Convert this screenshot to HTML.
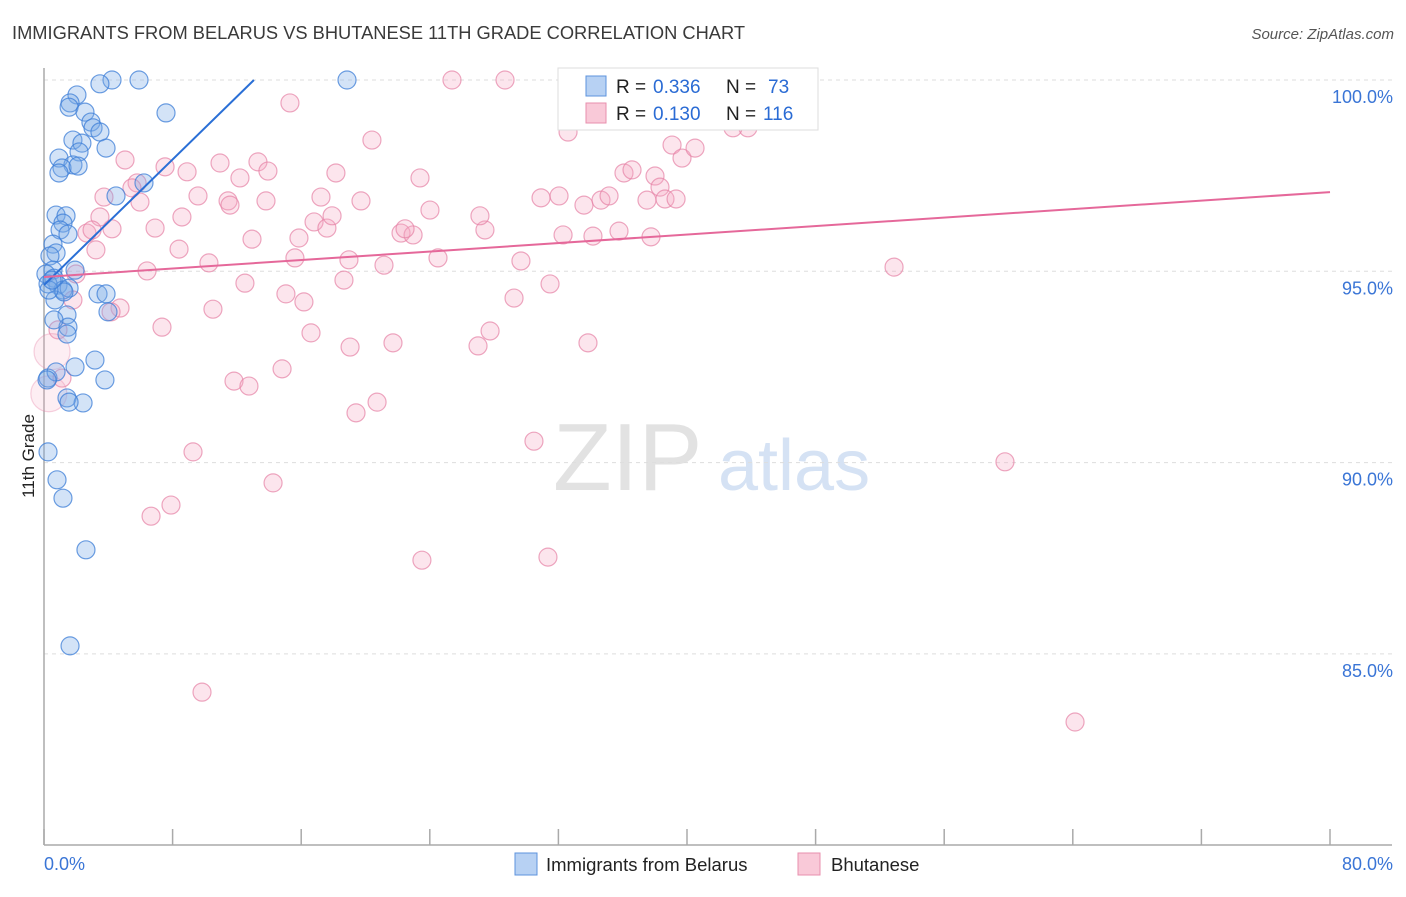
<!DOCTYPE html>
<html><head><meta charset="utf-8"><style>
body{margin:0;background:#fff;font-family:"Liberation Sans",sans-serif;}
svg text{font-family:"Liberation Sans",sans-serif;}
</style></head><body>
<svg id="chart" width="1406" height="892" viewBox="0 0 1406 892" xmlns="http://www.w3.org/2000/svg">
<text x="12" y="39" font-size="18.3" fill="#3a3a3a">IMMIGRANTS FROM BELARUS VS BHUTANESE 11TH GRADE CORRELATION CHART</text>
<text x="1394" y="39" font-size="15" fill="#555" font-style="italic" text-anchor="end">Source: ZipAtlas.com</text>
<g>
<text x="553" y="490" font-size="96" fill="#e2e2e2" font-family="Liberation Serif,serif">ZIP</text>
<text x="718" y="490" font-size="72" fill="#d5e2f4">atlas</text>
</g>
<g id="grid"></g>
<g id="axes"></g>
<g id="marks"></g>
<g id="trends"></g>
<text transform="translate(34,456) rotate(-90)" font-size="17" fill="#222" text-anchor="middle">11th Grade</text>
<g>
<rect x="558" y="68" width="260" height="62" fill="#fff" stroke="#ddd"/>
<rect x="586" y="76" width="20" height="20" fill="#b7d1f3" stroke="#5d93dc"/>
<text x="616" y="93" font-size="19" fill="#222">R = </text><text x="653" y="93" font-size="19" fill="#2a6bd4">0.336</text>
<text x="726" y="93" font-size="19" fill="#222">N = </text><text x="768" y="93" font-size="19" fill="#2a6bd4">73</text>
<rect x="586" y="103" width="20" height="20" fill="#f9c9d8" stroke="#e88fae"/>
<text x="616" y="120" font-size="19" fill="#222">R = </text><text x="653" y="120" font-size="19" fill="#2a6bd4">0.130</text>
<text x="726" y="120" font-size="19" fill="#222">N = </text><text x="763" y="120" font-size="19" fill="#2a6bd4">116</text>
</g>
<g>
<rect x="515" y="853" width="22" height="22" fill="#b7d1f3" stroke="#5d93dc"/>
<text x="546" y="871" font-size="18.5" fill="#222">Immigrants from Belarus</text>
<rect x="798" y="853" width="22" height="22" fill="#f9c9d8" stroke="#e88fae"/>
<text x="831" y="871" font-size="18.5" fill="#222">Bhutanese</text>
</g>
</svg>
<script>
const yTicks=[100,95,90,85];
const yTickLabels=["100.0%","95.0%","90.0%","85.0%"];
const xTickCount=10;
const xLabels=["0.0%","80.0%"];
const blueX=[4.23,5.91,18.85,3.48,2.05,1.62,1.56,2.55,7.59,2.92,3.05,1.80,3.48,2.36,3.86,0.93,2.18,1.80,1.12,2.12,0.93,6.22,4.48,0.75,1.37,1.18,1.00,1.49,0.56,0.75,0.37,1.93,0.56,0.12,0.62,0.87,1.18,1.56,3.36,3.86,0.68,1.24,0.25,3.98,1.43,1.49,1.43,0.62,3.17,1.93,3.79,0.25,0.75,1.43,2.43,1.56,0.25,0.81,1.18,2.61,1.62,0.31,0.19,0.50];
const blueY=[100,100,100,99.90,99.61,99.40,99.29,99.16,99.14,98.90,98.75,98.43,98.64,98.35,98.22,97.96,98.12,97.78,97.70,97.75,97.57,97.31,96.97,96.47,96.45,96.26,96.08,95.97,95.71,95.48,95.40,95.03,95.03,94.93,94.82,94.64,94.51,94.56,94.41,94.41,94.25,94.46,94.67,93.94,93.86,93.54,93.36,93.73,92.68,92.50,92.16,92.21,92.37,91.69,91.56,91.58,90.28,89.55,89.07,87.72,85.21,94.51,92.16,94.77];
const pinkX=[25.38,28.68,44.73,15.30,20.40,32.60,43.48,43.79,42.86,5.04,7.53,10.95,13.31,13.93,8.90,12.19,18.16,23.39,5.79,5.47,3.73,9.58,5.97,13.81,17.23,11.45,11.57,19.72,4.23,6.91,8.58,3.48,2.67,2.99,16.80,17.60,17.92,24.01,12.94,15.86,22.21,22.96,22.46,27.43,27.12,30.92,32.04,33.59,34.65,35.15,36.08,36.58,38.01,38.32,39.07,39.69,40.50,38.63,39.32,37.51,32.29,34.15,35.77,37.76,3.23,8.40,6.41,10.26,15.61,18.97,21.15,24.51,29.67,1.99,12.50,18.66,15.05,16.17,29.24,31.48,10.51,4.73,4.17,7.34,16.61,19.04,21.71,27.00,27.75,33.84,1.80,0.87,1.12,11.82,12.75,14.81,19.41,20.72,30.48,9.27,14.25,6.66,7.90,23.51,31.35,9.83,52.88,59.78,64.14,0.5,0.3];
const pinkY=[100,100,100,99.40,98.43,98.64,99.01,98.75,98.75,97.91,97.73,97.83,97.86,97.62,97.60,97.44,97.57,97.44,97.31,97.18,96.94,96.97,96.81,96.84,96.94,96.84,96.73,96.84,96.11,96.13,96.42,96.42,96.00,96.08,96.29,96.13,96.45,96.60,95.84,95.87,96.00,95.95,96.11,96.08,96.45,96.92,96.97,96.73,96.86,96.97,97.57,97.65,97.49,97.20,98.30,97.96,98.22,96.89,96.89,96.86,95.95,95.92,96.05,95.90,95.56,95.58,95.01,95.22,95.35,95.30,95.16,95.35,95.27,94.93,94.69,94.77,94.41,94.20,94.30,94.67,94.01,94.04,93.94,93.54,93.39,93.02,93.13,93.05,93.44,93.13,94.25,93.47,92.21,92.13,92.00,92.45,91.30,91.58,90.56,90.28,89.47,88.60,88.89,87.45,87.53,84.00,95.11,90.02,83.22,92.9,91.8];
const pinkSize=pinkX.map((v,i)=>i>=pinkX.length-2?18:9);
const blueTrend=[[0,94.64],[13.06,100]];
const pinkTrend=[[0,94.85],[80,97.07]];
const NS="http://www.w3.org/2000/svg";
const X0=44,X1=1330,Y100=80,PXPER=38.26;
const sx=v=>X0+(X1-X0)*v/80;
const sy=v=>Y100+(100-v)*PXPER;
function mk(tag,attrs,parent){const e=document.createElementNS(NS,tag);for(const k in attrs)e.setAttribute(k,attrs[k]);parent.appendChild(e);return e;}
const grid=document.getElementById('grid'),axes=document.getElementById('axes'),marks=document.getElementById('marks'),trends=document.getElementById('trends');
yTicks.forEach((t,i)=>{
 const l=mk('line',{x1:X0,x2:1392,y1:sy(t),y2:sy(t),stroke:'#ddd','stroke-dasharray':'4,4'},grid);
 
 
 const tx=mk('text',{x:1393,y:sy(t)+23,'font-size':18,fill:'#3a75d6','text-anchor':'end'},axes);
 tx.textContent=yTickLabels[i];
 
 
});
const ya=mk('line',{x1:X0,x2:X0,y1:68,y2:845,stroke:'#aaa','stroke-width':1.5},axes);


const xa=mk('line',{x1:X0,x2:1392,y1:845,y2:845,stroke:'#aaa','stroke-width':1.5},axes);


for(let i=0;i<=xTickCount;i++){
 const v=80*i/xTickCount;
 const t=mk('line',{x1:sx(v),x2:sx(v),y1:829,y2:845,stroke:'#aaa','stroke-width':1.5},axes);
 
 
}
const xl0=mk('text',{x:44,y:870,'font-size':18,fill:'#3a75d6'},axes);xl0.textContent=xLabels[0];


const xl1=mk('text',{x:1393,y:870,'font-size':18,fill:'#3a75d6','text-anchor':'end'},axes);xl1.textContent=xLabels[1];


pinkX.forEach((v,i)=>{
 const big=pinkSize[i]>9;
 const c=mk('circle',{cx:sx(v),cy:sy(pinkY[i]),r:pinkSize[i],fill:big?'rgba(246,170,196,0.2)':'rgba(246,170,196,0.3)',stroke:big?'rgba(230,130,165,0.35)':'rgba(230,130,165,0.7)','stroke-width':1.2},marks);
 
 
});
blueX.forEach((v,i)=>{
 const c=mk('circle',{cx:sx(v),cy:sy(blueY[i]),r:9,fill:'rgba(120,170,232,0.33)',stroke:'rgba(60,125,215,0.75)','stroke-width':1.2},marks);
 
 
});
const bt=mk('line',{x1:sx(blueTrend[0][0]),y1:sy(blueTrend[0][1]),x2:sx(blueTrend[1][0]),y2:sy(blueTrend[1][1]),stroke:'#2a6fd6','stroke-width':2},trends);


const pt=mk('line',{x1:sx(pinkTrend[0][0]),y1:sy(pinkTrend[0][1]),x2:sx(pinkTrend[1][0]),y2:sy(pinkTrend[1][1]),stroke:'#e5689a','stroke-width':2},trends);


</script>
</body></html>
